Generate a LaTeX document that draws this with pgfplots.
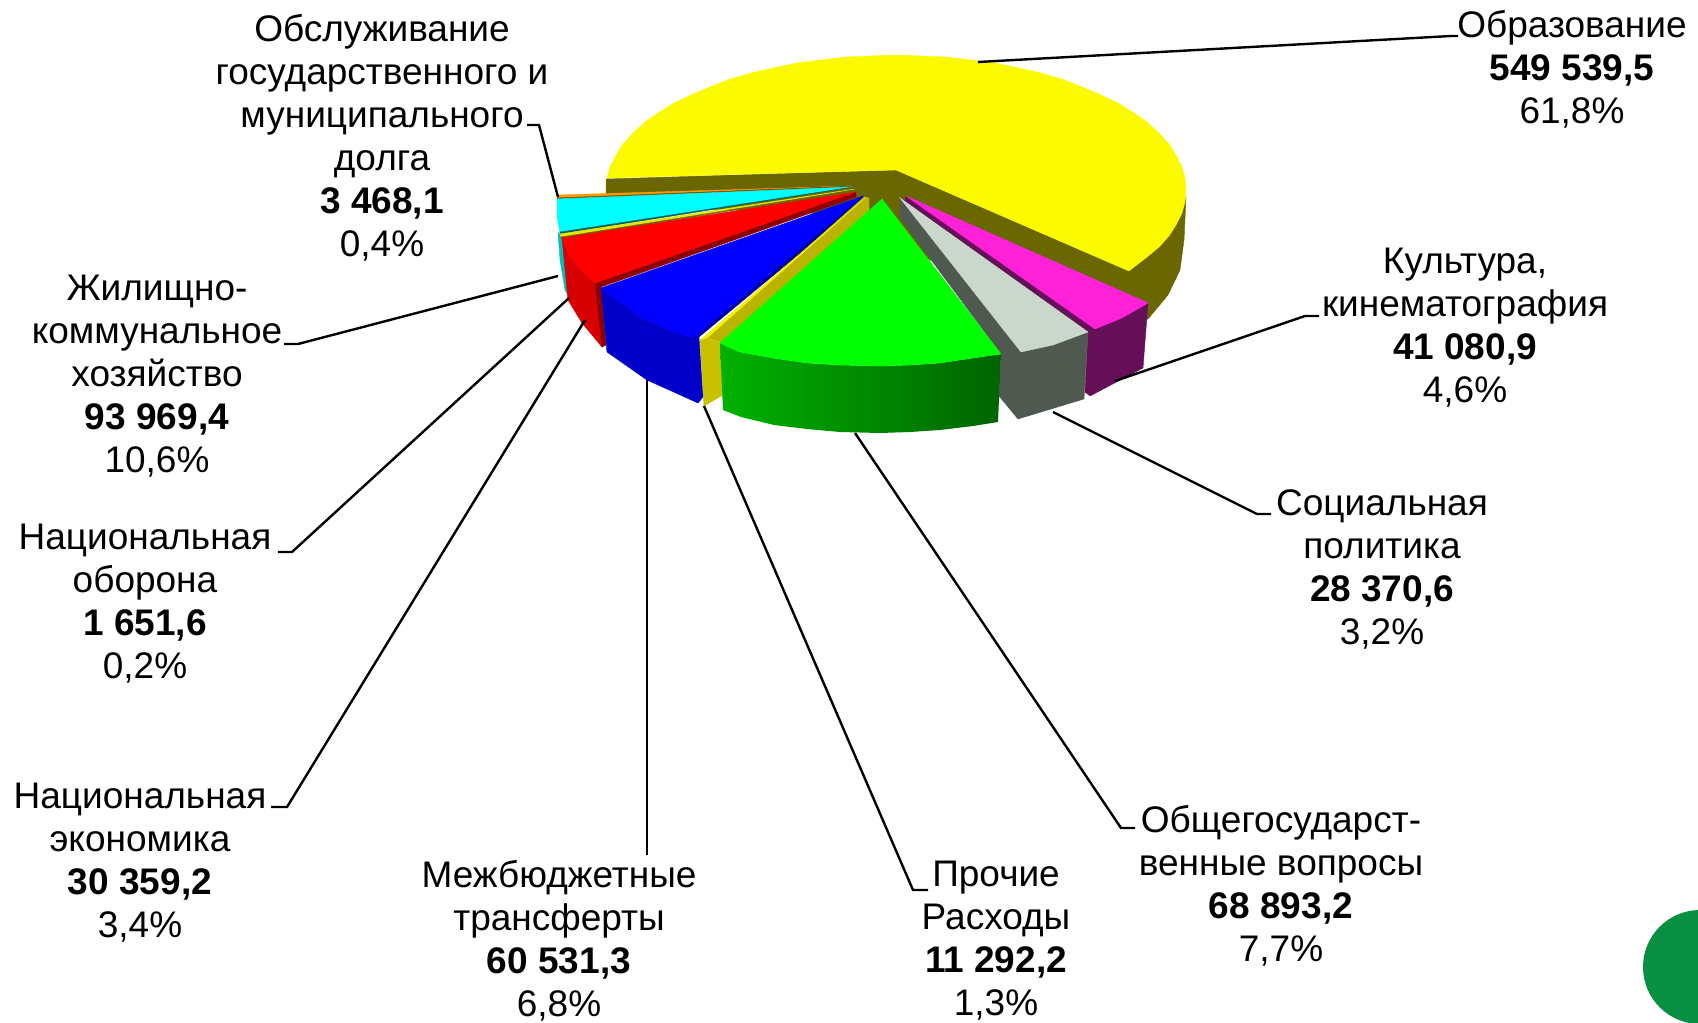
\documentclass[border=0pt]{standalone}
\usepackage{pgfplots}
\pgfplotsset{compat=1.18}
\usepackage{fontspec}
\setmainfont{Liberation Sans}
\definecolor{ye}{RGB}{252,250,0}
\definecolor{yed}{RGB}{106,102,0}
\definecolor{mag}{RGB}{255,33,215}
\definecolor{magd}{RGB}{100,15,88}
\definecolor{gr}{RGB}{202,216,203}
\definecolor{grd}{RGB}{80,89,80}
\definecolor{oli}{RGB}{186,180,0}
\definecolor{oliw}{RGB}{200,192,0}
\definecolor{oliy}{RGB}{245,240,0}
\definecolor{cy}{RGB}{0,255,255}
\definecolor{cyw}{RGB}{0,190,190}
\definecolor{cyd}{RGB}{0,100,100}
\definecolor{defy}{RGB}{230,230,0}
\definecolor{org}{RGB}{255,153,0}
\definecolor{orgd}{RGB}{120,75,0}
\definecolor{rd}{RGB}{255,0,0}
\definecolor{rdw}{RGB}{216,0,0}
\definecolor{rdc}{RGB}{140,0,0}
\definecolor{bl}{RGB}{0,0,255}
\definecolor{blw}{RGB}{0,0,200}
\definecolor{blc}{RGB}{0,0,160}
\definecolor{gA}{RGB}{0,178,0}
\definecolor{gI}{RGB}{0,100,0}
\definecolor{gT}{RGB}{0,255,0}
\definecolor{circ}{RGB}{7,143,66}
\pgfplotsset{poly/.style={draw=#1,line width=0.4pt,fill=#1,forget plot}}
\tikzset{lbl/.style={align=center,font=\fontsize{37}{43}\selectfont,inner sep=0pt}}
\begin{document}
\begin{tikzpicture}
\begin{axis}[width=1698pt,height=1023pt,scale only axis,xmin=0,xmax=1698,ymin=0,ymax=1023,y dir=reverse,hide axis]
% yellow: cut faces and outer wall
\addplot[poly=yed] coordinates {(606,179)(896,170)(1129,271)(1134,267)(1159,247)(1176,225)(1185,202)(1186,197)(1184,240)(1180,270)(1168,295)(1148,319)(1100,330)(906,250)(860,215)(606,205)} -- cycle;
% yellow top
\addplot[poly=ye] coordinates {(896,170)(607,178)(610,167)(616,155)(623,144)(633,133)(645,122)(658,113)(674,103)(691,95)(710,87)(730,79)(751,73)(773,68)(797,63)(821,60)(846,57)(871,56)(896,55)(921,56)(946,57)(971,60)(995,63)(1019,68)(1041,73)(1062,79)(1082,87)(1101,95)(1118,103)(1134,113)(1147,122)(1159,133)(1169,144)(1176,155)(1182,167)(1185,178)(1186,190)(1185,202)(1182,213)(1176,225)(1169,236)(1159,247)(1147,257)(1134,267)(1129,271)} -- cycle;
% orange
\addplot[poly=org] coordinates {(557,195)(853,186)(557,198)} -- cycle;
\addplot[poly=orgd] coordinates {(557,198)(853,186)(557,200)} -- cycle;
% cyan
\addplot[poly=cyw] coordinates {(558,232)(562,238)(569,297)(565,290)(560,260)} -- cycle;
\addplot[poly=cy] coordinates {(557,199)(852,187)(560,233)(557,217)} -- cycle;
% defence
\addplot[poly=cyd] coordinates {(560,232)(853,187)(560,234)} -- cycle;
\addplot[poly=defy] coordinates {(560,234)(855,189)(561,237)} -- cycle;
\addplot[poly=yed] coordinates {(561,237)(855,190)(562,239)} -- cycle;
% red
\addplot[poly=rdw] coordinates {(562,238)(570,257)(583,272)(595,283)(602,347)(582,323)(568,300)} -- cycle;
\addplot[poly=rdc] coordinates {(856,192)(856,197)(601,287)(606,345)(602,347)(595,283)} -- cycle;
\addplot[poly=rd] coordinates {(856,192)(562,238)(570,257)(583,272)(595,283)} -- cycle;
% blue
\addplot[poly=blw] coordinates {(601,288)(640,317)(673,332)(694,337)(699,337)(703,397)(698,403)(647,380)(607,352)} -- cycle;
\addplot[poly=blc] coordinates {(863,196)(863,201)(699,337)(694,337)} -- cycle;
\addplot[poly=bl] coordinates {(863,196)(601,288)(640,317)(673,332)(694,337)} -- cycle;
% other
\addplot[poly=oli] coordinates {(864,197)(869,198)(869,212)(722,343)(707,337)} -- cycle;
\addplot[poly=oliw] coordinates {(700,340)(707,337)(720,343)(723,395)(704,406)} -- cycle;
\addplot[poly=oliy] coordinates {(700,340)(866,197)(707,338)} -- cycle;
% magenta
\addplot[poly=magd] coordinates {(906,196)(1095,329)(1148,303)(1143,368)(1090,396)(1085,392)(1088,332)(904,204)} -- cycle;
\addplot[poly=mag] coordinates {(906,196)(1148,303)(1122,318)(1095,329)} -- cycle;
% grey
\addplot[poly=grd] coordinates {(900,198)(1021,352)(1088,332)(1084,399)(1018,419)(999,396)(1001,354)(900,218)} -- cycle;
\addplot[poly=gr] coordinates {(900,198)(1088,332)(1053,345)(1021,352)} -- cycle;
% green wall
\addplot[draw=none,left color=gA,right color=gI,forget plot] coordinates {(720,343)(740,352)(773,358)(807,363)(840,365)(880,366)(910,365)(940,363)(973,358)(1001,354)(998,422)(973,426)(940,430)(910,432)(880,433)(840,432)(807,429)(774,425)(741,417)(723,410)} -- cycle;
% green top
\addplot[poly=gT] coordinates {(882,199)(720,343)(740,352)(773,358)(807,363)(840,365)(880,366)(910,365)(940,363)(973,358)(1001,354)} -- cycle;
% leader lines
\addplot[black,line width=2.4pt,forget plot] coordinates {(978,62)(1451,36)(1458,36)};
\addplot[black,line width=2.4pt,forget plot] coordinates {(1115,381)(1305,316)(1319,316)};
\addplot[black,line width=2.4pt,forget plot] coordinates {(1053,412)(1257,514)(1271,514)};
\addplot[black,line width=2.4pt,forget plot] coordinates {(855,433)(1121,828)(1135,828)};
\addplot[black,line width=2.4pt,forget plot] coordinates {(704,406)(913,890)(928,890)};
\addplot[black,line width=2.4pt,forget plot] coordinates {(647,380)(647,855)};
\addplot[black,line width=2.4pt,forget plot] coordinates {(585,320)(287,807)(271,807)};
\addplot[black,line width=2.4pt,forget plot] coordinates {(569,298)(292,552)(278,552)};
\addplot[black,line width=2.4pt,forget plot] coordinates {(558,276)(298,344)(284,344)};
\addplot[black,line width=2.4pt,forget plot] coordinates {(558,197)(539,125)(527,125)};
% circle
\fill[circ] (axis cs:1700,967) circle[radius=57];
% labels
\node[lbl] at (axis cs:382,138) {Обслуживание\\государственного и\\муниципального\\долга\\\textbf{3 468,1}\\0,4\%};
\node[lbl] at (axis cs:1572,69) {Образование\\\textbf{549 539,5}\\61,8\%};
\node[lbl] at (axis cs:1465,328) {Культура,\\кинематография\\\textbf{41 080,9}\\4,6\%};
\node[lbl] at (axis cs:1382,569) {Социальная\\политика\\\textbf{28 370,6}\\3,2\%};
\node[lbl] at (axis cs:1281,886) {Общегосударст-\\венные вопросы\\\textbf{68 893,2}\\7,7\%};
\node[lbl] at (axis cs:996,941) {Прочие\\Расходы\\\textbf{11 292,2}\\1,3\%};
\node[lbl] at (axis cs:559,941) {Межбюджетные\\трансферты\\\textbf{60 531,3}\\6,8\%};
\node[lbl] at (axis cs:140,863) {Национальная\\экономика\\\textbf{30 359,2}\\3,4\%};
\node[lbl] at (axis cs:145,604) {Национальная\\оборона\\\textbf{1 651,6}\\0,2\%};
\node[lbl] at (axis cs:157,376) {Жилищно-\\коммунальное\\хозяйство\\\textbf{93 969,4}\\10,6\%};
\end{axis}
\pgfresetboundingbox
\path[use as bounding box] (0,0) rectangle (1698pt,1023pt);
\end{tikzpicture}
\end{document}
